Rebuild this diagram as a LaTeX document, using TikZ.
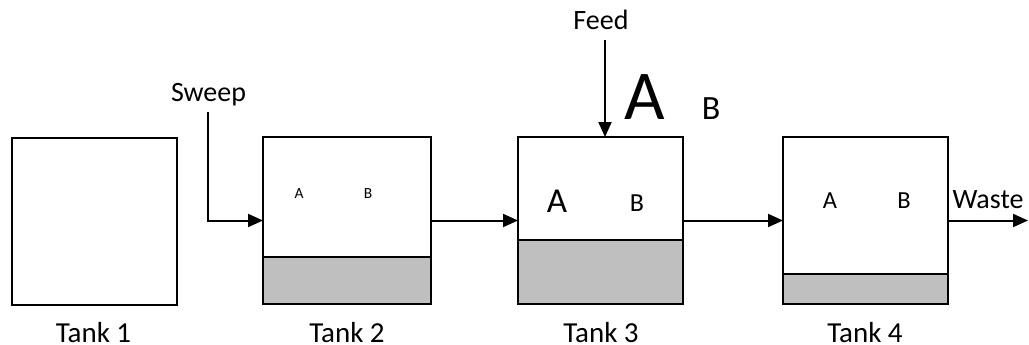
\documentclass[tikz,border=0pt]{standalone}
\usepackage{fontspec}
\setmainfont{Carlito}
\usetikzlibrary{arrows.meta,calc}
\newcommand{\fs}[1]{\fontsize{#1}{#1}\selectfont}
\definecolor{liq}{HTML}{BFBFBF}
\tikzset{
  tank/.style={draw=black,line width=2pt,fill=white,minimum width=165pt,minimum height=167pt,inner sep=0pt,outer sep=0pt},
  liquid/.style={draw=black,line width=2pt,fill=liq},
  flow/.style={draw=black,line width=2pt,-{Triangle[length=15pt,width=13pt]}},
  lbl/.style={anchor=base,inner sep=0pt,font=\fs{28}},
}
\begin{document}
\begin{tikzpicture}[x=1pt,y=-1pt]
\useasboundingbox (0,0) rectangle (1029,345);
% tanks
\node[tank] (t1) at (94.5,221) {};
\node[tank,minimum width=168pt] (t2) at (347,220.5) {};
\node[tank] (t3) at (600.5,220.5) {};
\node[tank] (t4) at (865.5,220.5) {};
% liquid layers
\draw[liquid] (t2.south west) rectangle ($(t2.south east)+(0,-47)$);
\draw[liquid] (t3.south west) rectangle ($(t3.south east)+(0,-64)$);
\draw[liquid] (t4.south west) rectangle ($(t4.south east)+(0,-30)$);
% tank labels
\node[lbl,font=\fs{29}] (l1) at (93.5,342) {Tank 1};
\node[lbl,font=\fs{29}] (l2) at (347,342) {Tank 2};
\node[lbl,font=\fs{29}] (l3) at (601,342) {Tank 3};
\node[lbl,font=\fs{29}] (l4) at (865,342) {Tank 4};
% contents
\node[lbl,font=\fs{15.5}] (a2) at (299,198) {A};
\node[lbl,font=\fs{15.5}] (b2) at (368,198) {B};
\node[lbl,font=\fs{35}] (a3) at (557,212) {A};
\node[lbl,font=\fs{26}] (b3) at (637,211) {B};
\node[lbl,font=\fs{24.5}] (a4) at (830,208) {A};
\node[lbl,font=\fs{24.5}] (b4) at (904,208) {B};
\node[lbl,font=\fs{70}] (af) at (645,120) {A};
\node[lbl,font=\fs{34}] (bf) at (711,120) {B};
% stream labels
\node[lbl] (sweep) at (208.5,102) {Sweep};
\node[lbl] (feed) at (601,29.5) {Feed};
\node[lbl] (waste) at (988,208) {Waste};
% streams
\coordinate (swtop) at (208,112);
\coordinate (fdtop) at (605,40);
\coordinate (wend) at (1028,220.5);
\draw[flow] (swtop) |- (t2.west);
\draw[flow] (t2.east) -- (t3.west);
\draw[flow] (fdtop) -- (fdtop |- t3.north);
\draw[flow] (t3.east) -- (t4.west);
\draw[flow] (t4.east) -- (wend);
\end{tikzpicture}
\end{document}
